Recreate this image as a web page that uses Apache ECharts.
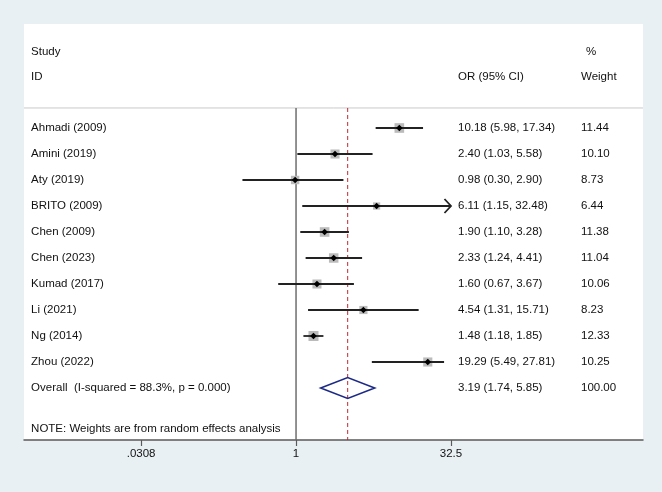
<!DOCTYPE html>
<html>
<head>
<meta charset="utf-8">
<title>Forest plot</title>
<script src="https://cdn.jsdelivr.net/npm/echarts@6/dist/echarts.min.js"></script>
<style>
  html, body { margin: 0; padding: 0; background: #e9f0f3; }
  #chart { width: 662px; height: 492px; }
</style>
</head>
<body>
<div id="chart"></div>
<script>
// study data
const studies = ['Ahmadi (2009)', 'Amini (2019)', 'Aty (2019)', 'BRITO (2009)', 'Chen (2009)',
  'Chen (2023)', 'Kumad (2017)', 'Li (2021)', 'Ng (2014)', 'Zhou (2022)'];
const orVals = [10.18, 2.40, 0.98, 6.11, 1.90, 2.33, 1.60, 4.54, 1.48, 19.29];
const ciLow = [5.98, 1.03, 0.30, 1.15, 1.10, 1.24, 0.67, 1.31, 1.18, 5.49];
const ciHigh = [17.34, 5.58, 2.90, 32.48, 3.28, 4.41, 3.67, 15.71, 1.85, 27.81];
const weights = [11.44, 10.10, 8.73, 6.44, 11.38, 11.04, 10.06, 8.23, 12.33, 10.25];
const arrowRows = [3];   // CI runs past the last axis label

// pooled estimate: OR, low, high, weight
const overallLabel = 'Overall  (I-squared = 88.3%, p = 0.000)';
const overallEst = [3.19, 1.74, 5.85];
const overallWeight = 100.00;

// axis
const tickValues = [0.0308, 1, 32.5];
const tickLabels = ['.0308', '1', '32.5'];

const headerLeft = ['Study', 'ID'];
const headerCI = 'OR (95% CI)';
const headerWeight = ['%', 'Weight'];
const noteText = 'NOTE: Weights are from random effects analysis';

// layout (x in log10 units, y in row units)
const colStudy = -2.585;
const colCI = 1.58;
const colWeight = 2.78;
const colPct = 2.83;
const FONT = '11.5px "Liberation Sans", Arial, sans-serif';
const TXT = '#111';

const lg = v => Math.log10(v);
const f2 = v => v.toFixed(2);
const xClip = lg(tickValues[tickValues.length - 1]);

const tableRows = studies.map((s, i) => ({
  row: i, label: s,
  ci: f2(orVals[i]) + ' (' + f2(ciLow[i]) + ', ' + f2(ciHigh[i]) + ')',
  w: f2(weights[i])
}));
tableRows.push({
  row: studies.length, label: overallLabel,
  ci: f2(overallEst[0]) + ' (' + f2(overallEst[1]) + ', ' + f2(overallEst[2]) + ')',
  w: f2(overallWeight)
});

const text = (x, y, s) => ({
  type: 'text', x: x, y: y,
  style: { text: s, font: FONT, fill: TXT, align: 'left', verticalAlign: 'middle' }
});

const chart = echarts.init(document.getElementById('chart'));
chart.setOption({
  backgroundColor: '#e9f0f3',
  animation: false,
  grid: { left: 24, right: 19, top: 24, bottom: 52, show: true, backgroundColor: '#fff', borderWidth: 0 },
  xAxis: {
    type: 'value', min: -2.654, max: 3.385,
    splitLine: { show: false },
    axisLine: { show: true, onZero: false, lineStyle: { color: '#5a5a5a', width: 1.5 } },
    axisTick: { show: true, length: 6, lineStyle: { color: '#5a5a5a', width: 1.2 },
      customValues: tickValues.map(lg) },
    axisLabel: {
      customValues: tickValues.map(lg), margin: 8,
      fontFamily: '"Liberation Sans", Arial, sans-serif', fontSize: 11.5, color: TXT,
      formatter: v => {
        const k = tickValues.findIndex(t => Math.abs(lg(t) - v) < 1e-6);
        return k >= 0 ? tickLabels[k] : '';
      }
    }
  },
  yAxis: { type: 'value', inverse: true, min: -4, max: 12, show: false },
  series: [
    {
      // frame: header, divider, null line, pooled line, note
      type: 'custom',
      data: [[lg(overallEst[0])]],
      z: 1,
      renderItem: (params, api) => {
        const yDiv = api.coord([0, -0.77])[1];
        const yBot = api.coord([0, 12])[1];
        const xL = api.coord([-2.654, 0])[0];
        const xR = api.coord([3.385, 0])[0];
        const x1 = api.coord([0, 0])[0];
        const xP = api.coord([api.value(0), 0])[0];
        const yS = api.coord([0, -2.92])[1];
        const yI = api.coord([0, -1.96])[1];
        const yN = api.coord([0, 11.58])[1];
        return {
          type: 'group',
          children: [
            { type: 'line', shape: { x1: xL, y1: yDiv, x2: xR, y2: yDiv }, style: { stroke: '#c9c9c9', lineWidth: 1 } },
            { type: 'line', shape: { x1: x1, y1: yDiv, x2: x1, y2: yBot }, style: { stroke: '#6e6e6e', lineWidth: 1.5 } },
            { type: 'line', shape: { x1: xP, y1: yDiv, x2: xP, y2: yBot },
              style: { stroke: '#c0282e', lineWidth: 1, lineDash: [4, 3] } },
            text(api.coord([colStudy, 0])[0], yS, headerLeft[0]),
            text(api.coord([colStudy, 0])[0], yI, headerLeft[1]),
            text(api.coord([colCI, 0])[0], yI, headerCI),
            text(api.coord([colPct, 0])[0], yS, headerWeight[0]),
            text(api.coord([colWeight, 0])[0], yI, headerWeight[1]),
            text(api.coord([colStudy, 0])[0], yN, noteText)
          ]
        };
      }
    },
    {
      // individual studies
      type: 'custom',
      z: 3,
      data: studies.map((s, i) => [lg(orVals[i]), i, lg(ciLow[i]), Math.min(lg(ciHigh[i]), xClip), weights[i]]),
      renderItem: (params, api) => {
        const i = params.dataIndex;
        const y = api.coord([0, api.value(1)])[1];
        const xE = api.coord([api.value(0), 0])[0];
        const xLo = api.coord([api.value(2), 0])[0];
        const xHi = api.coord([api.value(3), 0])[0];
        const side = 2.85 * Math.sqrt(api.value(4));
        const d = 3.3;
        const kids = [
          { type: 'rect', shape: { x: xE - side / 2, y: y - side / 2, width: side, height: side }, style: { fill: '#bbbbbb' } },
          { type: 'line', shape: { x1: xLo, y1: y, x2: xHi, y2: y }, style: { stroke: '#222', lineWidth: 1.8 } },
          { type: 'polygon', shape: { points: [[xE - d, y], [xE, y - d], [xE + d, y], [xE, y + d]] }, style: { fill: '#000' } }
        ];
        if (arrowRows.includes(i)) {
          kids.push({ type: 'polyline', shape: { points: [[xHi - 6.5, y - 7], [xHi, y], [xHi - 6.5, y + 7]] },
            style: { stroke: '#222', lineWidth: 1.8, fill: null } });
        }
        return { type: 'group', children: kids };
      }
    },
    {
      // pooled diamond
      type: 'custom',
      z: 3,
      data: [[lg(overallEst[0]), studies.length, lg(overallEst[1]), lg(overallEst[2])]],
      renderItem: (params, api) => {
        const y = api.coord([0, api.value(1)])[1];
        const xE = api.coord([api.value(0), 0])[0];
        const xLo = api.coord([api.value(2), 0])[0];
        const xHi = api.coord([api.value(3), 0])[0];
        const h = 10.5;
        return {
          type: 'polygon',
          shape: { points: [[xLo, y], [xE, y - h], [xHi, y], [xE, y + h]] },
          style: { fill: 'rgba(255,255,255,0)', stroke: '#1c2a86', lineWidth: 1.6 }
        };
      }
    },
    {
      // table text
      type: 'custom',
      z: 4,
      data: tableRows.map(r => [r.row]),
      renderItem: (params, api) => {
        const r = tableRows[params.dataIndex];
        const y = api.coord([0, api.value(0)])[1];
        return {
          type: 'group',
          children: [
            text(api.coord([colStudy, 0])[0], y, r.label),
            text(api.coord([colCI, 0])[0], y, r.ci),
            text(api.coord([colWeight, 0])[0], y, r.w)
          ]
        };
      }
    }
  ]
});
</script>
</body>
</html>
